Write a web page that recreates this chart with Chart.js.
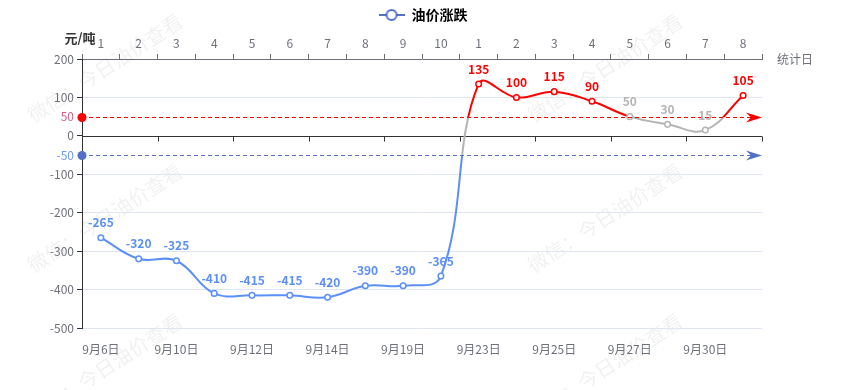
<!DOCTYPE html>
<html>
<head>
<meta charset="utf-8">
<script src="https://cdn.jsdelivr.net/npm/chart.js@4/dist/chart.umd.min.js"></script>
<style>
  body { margin: 0; background: #fff; }
</style>
</head>
<body>
<canvas id="chart" width="846" height="390"></canvas>
<script>
// data
let dates = ["9月6日", "9月9日", "9月10日", "9月11日", "9月12日", "9月13日", "9月14日", "9月16日", "9月19日",
  "9月20日", "9月23日", "9月24日", "9月25日", "9月26日", "9月27日", "9月28日", "9月30日", "10月8日"];
let days = ["1", "2", "3", "4", "5", "6", "7", "8", "9", "10", "1", "2", "3", "4", "5", "6", "7", "8"];
let change = [-265, -320, -325, -410, -415, -415, -420, -390, -390, -365, 135, 100, 115, 90, 50, 30, 15, 105];
let marks = [50, -50];

let FONT = '"Noto Sans CJK SC", "Noto Sans", sans-serif';
let RED = "#ff0000";
let GREY = "#b4b4b4";
let BLUE = "#5b8ff9";
let AXIS = "#6E7079";

function colorFor(v) {
  if (v > 50) return RED;
  if (v > -50) return GREY;
  return BLUE;
}

// legend icon: line with hollow circle
let icon = document.createElement('canvas');
icon.width = 26; icon.height = 14;
let ic = icon.getContext('2d');
ic.strokeStyle = "#5470c6";
ic.lineWidth = 2;
ic.beginPath(); ic.moveTo(0, 7); ic.lineTo(26, 7); ic.stroke();
ic.fillStyle = "#fff";
ic.beginPath(); ic.arc(13, 7, 5, 0, Math.PI * 2); ic.fill(); ic.stroke();

function lineGradient(ctx) {
  let chart = ctx.chart;
  let area = chart.chartArea;
  if (!area) return BLUE;
  let y = chart.scales.y;
  let h = area.bottom - area.top;
  let f1 = Math.min(Math.max((y.getPixelForValue(50) - area.top) / h, 0), 1);
  let f2 = Math.min(Math.max((y.getPixelForValue(-50) - area.top) / h, 0), 1);
  let g = chart.ctx.createLinearGradient(0, area.top, 0, area.bottom);
  g.addColorStop(0, RED);
  g.addColorStop(f1, RED);
  g.addColorStop(f1, GREY);
  g.addColorStop(f2, GREY);
  g.addColorStop(f2, BLUE);
  g.addColorStop(1, BLUE);
  return g;
}

let watermark = {
  id: 'watermark',
  beforeDraw(chart) {
    let ctx = chart.ctx;
    ctx.save();
    ctx.fillStyle = "rgba(0,0,0,0.06)";
    ctx.font = "20px " + FONT;
    ctx.textAlign = "center";
    ctx.textBaseline = "middle";
    for (let tx = 0; tx < 900; tx += 500) {
      for (let ty = -150; ty < 500; ty += 150) {
        ctx.save();
        ctx.translate(tx + 105, ty + 68);
        ctx.rotate(-33 * Math.PI / 180);
        ctx.fillText("微信：今日油价查看", 0, 0);
        ctx.restore();
      }
    }
    ctx.restore();
  }
};

let zeroLine = {
  id: 'zeroLine',
  beforeDatasetsDraw(chart) {
    let ctx = chart.ctx;
    let a = chart.chartArea;
    let y0 = Math.round(chart.scales.y.getPixelForValue(0)) + 0.5;
    ctx.save();
    ctx.strokeStyle = "#333";
    ctx.lineWidth = 1;
    ctx.beginPath();
    ctx.moveTo(a.left, y0); ctx.lineTo(a.right, y0);
    let step = (a.right - a.left) / dates.length;
    for (let i = 2; i <= dates.length; i += 2) {
      let x = Math.round(a.left + step * i) + 0.5;
      ctx.moveTo(x, y0); ctx.lineTo(x, y0 + 5);
    }
    ctx.stroke();
    ctx.restore();
  }
};

let markLines = {
  id: 'markLines',
  afterDatasetsDraw(chart) {
    let ctx = chart.ctx;
    let a = chart.chartArea;
    marks.forEach(function (m) {
      let col = m > 0 ? RED : "#5470c6";
      let y = Math.round(chart.scales.y.getPixelForValue(m)) + 0.5;
      ctx.save();
      ctx.strokeStyle = col;
      ctx.fillStyle = col;
      ctx.lineWidth = 1;
      ctx.setLineDash([4, 3]);
      ctx.beginPath(); ctx.moveTo(a.left, y); ctx.lineTo(a.right - 10, y); ctx.stroke();
      ctx.setLineDash([]);
      ctx.beginPath(); ctx.arc(a.left, y, 4.5, 0, Math.PI * 2); ctx.fill();
      let x = a.right;
      ctx.beginPath();
      ctx.moveTo(x, y);
      ctx.lineTo(x - 16, y - 5);
      ctx.lineTo(x - 11, y);
      ctx.lineTo(x - 16, y + 5);
      ctx.closePath();
      ctx.fill();
      ctx.restore();
    });
  }
};

let valueLabels = {
  id: 'valueLabels',
  afterDatasetsDraw(chart) {
    let ctx = chart.ctx;
    let meta = chart.getDatasetMeta(0);
    ctx.save();
    ctx.font = "bold 12px " + FONT;
    ctx.textAlign = "center";
    ctx.textBaseline = "middle";
    meta.data.forEach(function (pt, i) {
      ctx.fillStyle = colorFor(change[i]);
      ctx.fillText(String(change[i]), pt.x, pt.y - 15);
    });
    ctx.restore();
  }
};

let axisNames = {
  id: 'axisNames',
  afterDraw(chart) {
    let ctx = chart.ctx;
    let a = chart.chartArea;
    ctx.save();
    ctx.font = "bold 13px " + FONT;
    ctx.fillStyle = "#333";
    ctx.textAlign = "center";
    ctx.textBaseline = "middle";
    ctx.fillText("元/吨", a.left - 2, a.top - 21);
    ctx.font = "12px " + FONT;
    ctx.fillStyle = AXIS;
    ctx.textAlign = "left";
    ctx.fillText("统计日", a.right + 15, a.top);
    ctx.restore();
  }
};

new Chart(document.getElementById('chart'), {
  type: 'line',
  data: {
    labels: dates,
    datasets: [{
      label: "油价涨跌",
      data: change,
      borderColor: lineGradient,
      borderWidth: 2,
      tension: 0.4,
      fill: false,
      pointRadius: 2.8,
      pointBorderWidth: 1.5,
      pointBackgroundColor: "#fff",
      pointBorderColor: change.map(colorFor),
      pointStyle: 'circle',
      xAxisID: 'x',
      yAxisID: 'y',
    }]
  },
  options: {
    responsive: false,
    animation: false,
    devicePixelRatio: 1,
    layout: { padding: 0 },
    plugins: {
      tooltip: { enabled: false },
      legend: {
        position: 'top',
        labels: {
          usePointStyle: true,
          pointStyleWidth: 26,
          padding: 8,
          color: "#333",
          font: { family: FONT, size: 14, weight: 'bold' },
          generateLabels() {
            return [{ text: "油价涨跌", pointStyle: icon, fillStyle: "#5470c6", strokeStyle: "#5470c6", lineWidth: 0 }];
          }
        }
      }
    },
    scales: {
      x: {
        type: 'category',
        position: 'bottom',
        offset: true,
        grid: { display: false, offset: true },
        border: { display: false },
        ticks: {
          autoSkip: false,
          maxRotation: 0,
          padding: 6,
          color: AXIS,
          font: { family: FONT, size: 12 },
          callback(v, i) { return i % 2 === 0 ? dates[i] : ''; }
        },
        afterFit(s) { s.height = 62; }
      },
      x2: {
        type: 'category',
        position: 'top',
        labels: days,
        offset: true,
        grid: { drawOnChartArea: false, offset: true, tickLength: 5, color: AXIS },
        border: { color: AXIS },
        ticks: {
          autoSkip: false,
          maxRotation: 0,
          padding: 3,
          color: AXIS,
          font: { family: FONT, size: 12 }
        },
        afterFit(s) { s.height = 27; }
      },
      y: {
        min: -500,
        max: 200,
        border: { color: "#333" },
        afterBuildTicks(s) {
          s.ticks = [];
          for (let v = -500; v <= 200; v += 100) s.ticks.push({ value: v });
          marks.forEach(function (m) { s.ticks.push({ value: m }); });
          s.ticks.sort(function (p, q) { return p.value - q.value; });
        },
        grid: {
          tickLength: 5,
          color(c) {
            let v = c.tick.value;
            if (v === 0 || v === 200 || v === 50 || v === -50) return 'rgba(0,0,0,0)';
            return "#E0E6F1";
          },
          tickColor(c) {
            let v = c.tick.value;
            return (v === 50 || v === -50) ? 'rgba(0,0,0,0)' : "#333";
          }
        },
        ticks: {
          padding: 3,
          font: { family: FONT, size: 12 },
          color(c) {
            let v = c.tick.value;
            if (v === 50) return "#d4608a";
            if (v === -50) return "#6b9cf5";
            return AXIS;
          },
          callback(v) { return String(v); }
        },
        afterFit(s) { s.width = 82; }
      },
      // empty right axis that only keeps room for the "统计日" name
      yRight: {
        position: 'right',
        min: -500,
        max: 200,
        grid: { display: false },
        border: { display: false },
        ticks: { display: false },
        afterFit(s) { s.width = 84; }
      }
    }
  },
  plugins: [watermark, zeroLine, markLines, valueLabels, axisNames]
});
</script>
</body>
</html>
